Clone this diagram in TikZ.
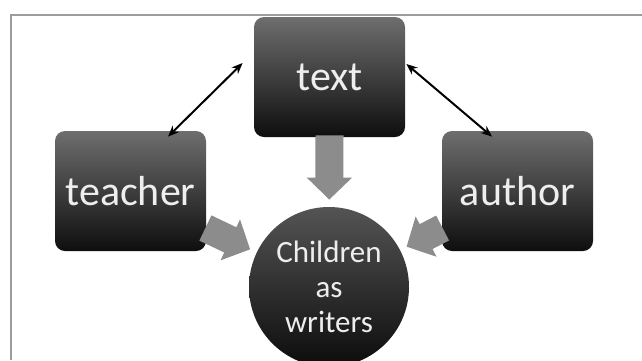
\documentclass[tikz,border=0pt]{standalone}
\usepackage{fontspec}
\setmainfont{Carlito}
\usetikzlibrary{arrows.meta,calc}

\definecolor{boxtop}{HTML}{6E6E6E}
\definecolor{boxbot}{HTML}{0E0E0E}
\definecolor{balltop}{HTML}{545454}
\definecolor{ballbot}{HTML}{0C0C0C}
\definecolor{blockgrey}{HTML}{8C8C8C}
\definecolor{framegrey}{HTML}{9C9C9C}
\definecolor{labelwhite}{HTML}{EEEEEE}

\tikzset{
  rolebox/.style={rounded corners=5pt, top color=boxtop, bottom color=boxbot,
    minimum width=75.5pt, minimum height=60pt, inner sep=0pt,
    text=labelwhite, font=\fontsize{21}{24}\selectfont},
  childball/.style={circle, top color=balltop, bottom color=ballbot,
    minimum size=80pt, inner sep=0pt, align=center,
    text=labelwhite, font=\fontsize{15.5}{17.5}\selectfont},
  blockarrow/.style={draw=blockgrey, line width=14pt,
    -{Triangle[width=22pt,length=11pt]}, shorten >=3.5pt},
  linkarrow/.style={draw=black, line width=1pt,
    {Stealth[length=5.5pt,width=4.5pt]}-{Stealth[length=5.5pt,width=4.5pt]}}
}

\begin{document}
\begin{tikzpicture}[x=0.5pt, y=-0.5pt]
\useasboundingbox (0,0) rectangle (642,360);
% frame
\draw[framegrey, line width=1pt] (11,360) -- (11,15) -- (642,15);

% boxes
\node[rolebox] (textbox) at (329.5,77) {text};
\node[rolebox] (teacher) at (130.5,191) {teacher};
\node[rolebox] (author) at (517.5,191) {author};
\node[childball] (child) at (329,287) {Children\\as\\writers};

% grey block arrows
\draw[blockarrow] ($(textbox.south)+(0,-2)$) -- (child);
\draw[blockarrow] ($(teacher.east)+(-1,37)$) -- (child);
\draw[blockarrow] ($(author.west)+(1,37)$) -- (child);

% links
\draw[linkarrow] ($(teacher.north)+(37.5,6)$) -- ($(textbox.west)+(-11,-14)$);
\draw[linkarrow] ($(textbox.east)+(1,-13)$) -- ($(author.north)+(-25.5,6)$);
\end{tikzpicture}
\end{document}
